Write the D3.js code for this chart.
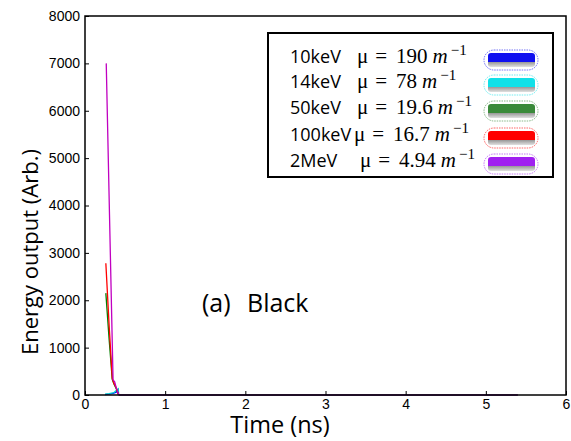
<!DOCTYPE html>
<html>
<head>
<meta charset="utf-8">
<script src="https://cdn.jsdelivr.net/npm/d3@7"></script>
<style>
  body { margin: 0; background: #fff; }
  svg { display: block; }
</style>
</head>
<body>
<svg id="chart" width="571" height="441"></svg>
<script>
// Energy output vs time, panel (a) Black.
const xTicks = [0, 1, 2, 3, 4, 5, 6];
const yTicks = [0, 1000, 2000, 3000, 4000, 5000, 6000, 7000, 8000];

const seriesNames = ["10keV", "14keV", "50keV", "100keV", "2MeV"];
const muText = ["190", "78", "19.6", "16.7", "4.94"];
const lineColors = ["#0000ff", "#00cccc", "#008000", "#ff0000", "#c000c0"];
const swatchColors = ["#1010f0", "#10e0e8", "#3a8a3a", "#ff0000", "#a020f0"];

// time (ns) and energy per series
const t10 = [0.25, 0.30, 0.35, 0.39, 0.41, 0.42];
const e10 = [10, 20, 35, 60, 100, 0];
const t14 = [0.25, 0.30, 0.36, 0.40, 0.415, 0.42];
const e14 = [20, 30, 50, 110, 130, 0];
const t50 = [0.26, 0.30, 0.34, 0.36, 0.39, 0.41, 0.42];
const e50 = [2150, 1200, 330, 240, 130, 40, 0];
const t100 = [0.26, 0.30, 0.34, 0.36, 0.39, 0.41, 0.42];
const e100 = [2780, 1500, 350, 250, 150, 50, 0];
const t2M = [0.265, 0.35, 0.37, 0.39, 0.41, 0.42];
const e2M = [7000, 320, 280, 150, 60, 0];
// flat tail of all curves along zero
const tailT = [0.42, 5.4];
const tailE = [0, 0];

const seriesT = [t10, t14, t50, t100, t2M];
const seriesE = [e10, e14, e50, e100, e2M];

const svg = d3.select("#chart");
const L = 85, R = 566, T = 16, B = 395;

const x = d3.scaleLinear().domain([0, 6]).range([L, R]);
const y = d3.scaleLinear().domain([0, 8000]).range([B, T]);

const line = d3.line().x(d => x(d[0])).y(d => y(d[1]));

seriesT.forEach((ts, i) => {
  svg.append("path")
    .attr("d", line(ts.map((t, k) => [t, seriesE[i][k]])))
    .attr("fill", "none")
    .attr("stroke", lineColors[i])
    .attr("stroke-width", 1.3);
});
svg.append("path")
  .attr("d", line(tailT.map((t, k) => [t, tailE[k]])))
  .attr("fill", "none")
  .attr("stroke", "#7f3f98")
  .attr("stroke-width", 2);

// frame
svg.append("rect")
  .attr("x", L).attr("y", T).attr("width", R - L).attr("height", B - T)
  .attr("fill", "none").attr("stroke", "#000").attr("stroke-width", 1.5);

const tickFont = "'Liberation Sans', Arial, sans-serif";
const textFont = "'Open Sans', sans-serif";

svg.append("g").attr("transform", `translate(0,${B})`)
  .call(d3.axisBottom(x).tickValues(xTicks).tickFormat(d3.format("d")).tickSizeInner(-4).tickSizeOuter(0).tickPadding(4))
  .call(g => g.select(".domain").remove())
  .call(g => g.selectAll("text").attr("font-family", tickFont).attr("font-size", 14).attr("fill", "#000"));

svg.append("g").attr("transform", `translate(${L},0)`)
  .call(d3.axisLeft(y).tickValues(yTicks).tickFormat(d3.format("d")).tickSizeInner(-4).tickSizeOuter(0).tickPadding(5))
  .call(g => g.select(".domain").remove())
  .call(g => g.selectAll("text").attr("font-family", tickFont).attr("font-size", 14).attr("fill", "#000"));

// axis labels
svg.append("text")
  .attr("x", 280).attr("y", 433)
  .attr("text-anchor", "middle")
  .attr("font-family", textFont)
  .attr("font-size", 23.5)
  .text("Time (ns)");

svg.append("text")
  .attr("transform", "translate(38,252) rotate(-90)")
  .attr("text-anchor", "middle")
  .attr("font-family", textFont)
  .attr("font-size", 22)
  .text("Energy output (Arb.)");

const ann = svg.append("text")
  .attr("y", 312)
  .attr("font-family", textFont)
  .attr("font-size", 25);
ann.append("tspan").attr("x", 202).text("(a)");
ann.append("tspan").attr("x", 247).text("Black");

// legend
const lg = svg.append("g");
lg.append("rect")
  .attr("x", 268).attr("y", 33).attr("width", 285).attr("height", 144)
  .attr("fill", "#fff").attr("stroke", "#000").attr("stroke-width", 2);

const defs = svg.append("defs");
swatchColors.forEach((c, i) => {
  const gr = defs.append("linearGradient").attr("id", "sw" + i)
    .attr("x1", 0).attr("y1", 0).attr("x2", 0).attr("y2", 1);
  gr.append("stop").attr("offset", "0%").attr("stop-color", c);
  gr.append("stop").attr("offset", "62%").attr("stop-color", c);
  gr.append("stop").attr("offset", "66%").attr("stop-color", "#9a9a9a");
  gr.append("stop").attr("offset", "100%").attr("stop-color", "#e0e0e0");
});

const rowY = [63, 88, 114, 141, 167];
const muX = [357, 357, 357, 354, 360];
seriesNames.forEach((name, i) => {
  const by = rowY[i];
  lg.append("text")
    .attr("x", 290).attr("y", by)
    .attr("font-family", textFont)
    .attr("font-size", 18)
    .text(name);
  const mt = lg.append("text")
    .attr("x", muX[i]).attr("y", by)
    .attr("font-family", "'Liberation Serif', 'DejaVu Serif', serif")
    .attr("font-size", 21);
  mt.append("tspan").text("μ");
  mt.append("tspan").attr("dx", 7).text("=");
  mt.append("tspan").attr("dx", 9).text(muText[i]);
  mt.append("tspan").attr("dx", 5).attr("font-style", "italic").text("m");
  mt.append("tspan").attr("dx", 3).attr("dy", -8).attr("font-size", 15).text("−1");

  const sy = by - 10;
  lg.append("rect")
    .attr("x", 484).attr("y", sy - 3).attr("width", 54).attr("height", 20).attr("rx", 10)
    .attr("fill", "none").attr("stroke", swatchColors[i]).attr("stroke-width", 0.6)
    .attr("stroke-dasharray", "1.5,1");
  lg.append("rect")
    .attr("x", 488).attr("y", sy).attr("width", 47).attr("height", 14).attr("rx", 3)
    .attr("fill", `url(#sw${i})`);
});
</script>
</body>
</html>
